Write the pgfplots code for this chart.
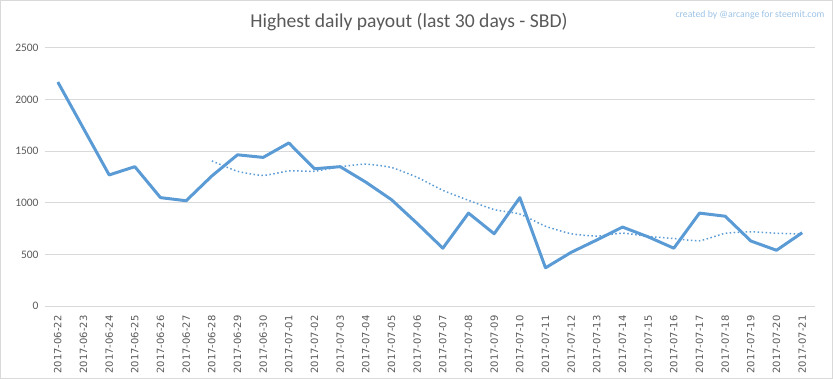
\documentclass[border=0pt]{standalone}
\usepackage{pgfplots}
\pgfplotsset{compat=1.18}
\usepackage{fontspec}
\setmainfont{Carlito}
\newfontfamily\dejavu{DejaVu Sans}
\definecolor{lineblue}{HTML}{5B9BD5}
\definecolor{gridgray}{HTML}{D9D9D9}
\definecolor{txtgray}{HTML}{595959}
\definecolor{wmblue}{HTML}{9DC3E6}
\begin{document}
\begin{tikzpicture}
\useasboundingbox (0,0) rectangle (833bp,379bp);
\draw[gridgray, line width=1bp] (0.5bp,0.5bp) rectangle (832.5bp,378.5bp);
\begin{axis}[
  at={(45bp,73bp)}, anchor=south west,
  scale only axis, width=770bp, height=258bp,
  xmin=-0.5, xmax=29.5, ymin=0, ymax=2500,
  ytick={0,500,...,2500},
  xtick={0,...,29},
  xticklabels={2017-06-22,2017-06-23,2017-06-24,2017-06-25,2017-06-26,2017-06-27,2017-06-28,2017-06-29,2017-06-30,2017-07-01,2017-07-02,2017-07-03,2017-07-04,2017-07-05,2017-07-06,2017-07-07,2017-07-08,2017-07-09,2017-07-10,2017-07-11,2017-07-12,2017-07-13,2017-07-14,2017-07-15,2017-07-16,2017-07-17,2017-07-18,2017-07-19,2017-07-20,2017-07-21},
  x tick label style={rotate=90, anchor=east, font=\dejavu\fontsize{10}{11}\selectfont, text=txtgray},
  y tick label style={font=\fontsize{11.5}{13}\selectfont, text=txtgray},
  /pgf/number format/assume math mode=true,
  yticklabel style={/pgf/number format/1000 sep={}},
  scaled y ticks=false,
  major tick length=0pt,
  xtick pos=bottom, ytick pos=left,
  xticklabel shift=6bp,
  yticklabel shift=3bp,
  ymajorgrids, grid style={gridgray, line width=1bp},
  axis line style={draw=none},
  clip=false,
]
\addplot[lineblue, line width=3bp, line join=round] coordinates {
(0,2170) (1,1720) (2,1270) (3,1350) (4,1050) (5,1020) (6,1260) (7,1465) (8,1440) (9,1580)
(10,1330) (11,1350) (12,1200) (13,1030) (14,800) (15,560) (16,900) (17,700) (18,1050) (19,370)
(20,520) (21,640) (22,765) (23,670) (24,560) (25,900) (26,870) (27,630) (28,540) (29,710)
};
\addplot[lineblue, line width=1.5bp, dash pattern=on 1.5bp off 2.5bp, smooth, tension=0.3] coordinates {
(6,1406) (7,1305) (8,1265) (9,1309) (10,1306) (11,1349) (12,1375) (13,1342) (14,1247) (15,1121)
(16,1024) (17,934) (18,891) (19,773) (20,700) (21,677) (22,706) (23,674) (24,654) (25,632)
(26,704) (27,719) (28,705) (29,697)
};
\end{axis}
\node[text=txtgray, font=\fontsize{19.7}{22}\selectfont] at (409bp,357bp) {Highest daily payout (last 30 days - SBD)};
\node[text=wmblue, font=\fontsize{9.8}{12}\selectfont] at (750bp,364bp) {created by @arcange for steemit.com};
\end{tikzpicture}
\end{document}
